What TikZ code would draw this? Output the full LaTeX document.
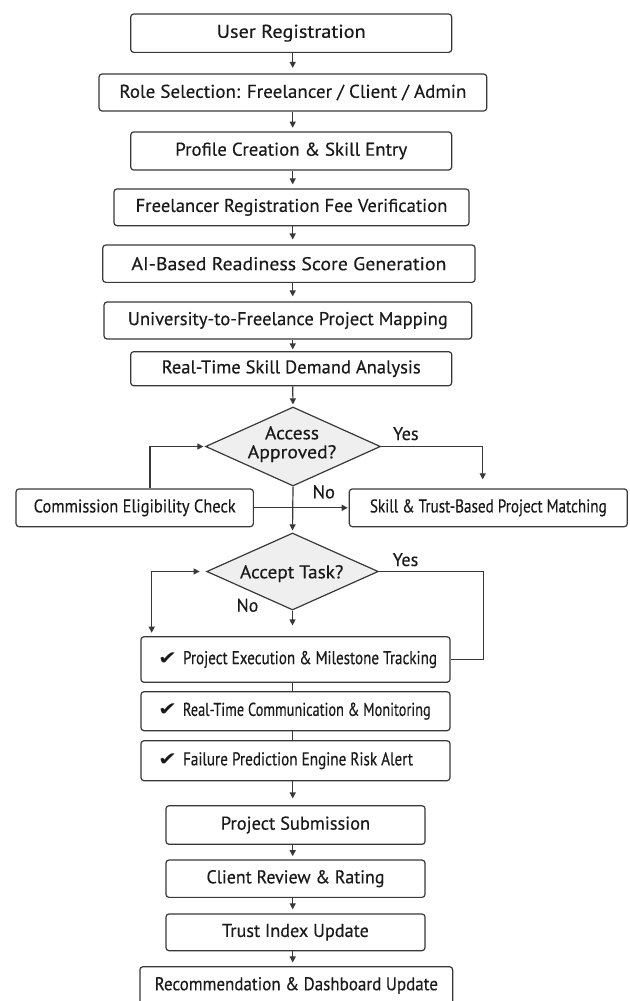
\documentclass[tikz,border=0pt]{standalone}
\usepackage{fontspec}
\setmainfont{PT Sans}[FakeBold=0.35]
\newfontfamily\symfont{DejaVu Sans}
\usetikzlibrary{arrows.meta,shapes.geometric,calc}
\definecolor{linec}{HTML}{383838}
\definecolor{textc}{HTML}{1A1A1A}
\definecolor{diaf}{HTML}{EFEFEF}
\newsavebox\fitbox
\newcommand\fitw[2]{\sbox\fitbox{#2}\pgfmathsetmacro\fitfac{#1/\the\wd\fitbox}\scalebox{\fitfac}[1]{\usebox\fitbox}}
\newcommand\chk[3]{\hbox to #1pt{\hskip17pt\fitw{19}{\symfont ✔}\hskip6pt\fitw{#2}{#3}\hfil}}
\tikzset{
  box/.style={draw=linec, line width=1.2pt, rounded corners=3pt, fill=white, inner sep=0pt,
    text=textc, font=\fontsize{18.5}{19}\selectfont},
  dia/.style={diamond, draw=linec, line width=1.2pt, fill=diaf, inner sep=0pt},
  tip/.tip={Triangle[length=6pt,width=6pt]},
  arr/.style={draw=linec, line width=1.2pt, -tip},
  ln/.style={draw=linec, line width=1.2pt},
  lbl/.style={text=textc, inner sep=0pt, anchor=base, font=\fontsize{18.5}{19}\selectfont}
}
\begin{document}
\begin{tikzpicture}[x=1pt,y=-1pt]
\useasboundingbox (0,0) rectangle (629,1001);
\clip (0,0) rectangle (629,1001);
\fill[white] (0,0) rectangle (629,1001);
\coordinate (ax) at (292.7,0);
\coordinate (cx) at (150,0);
\coordinate (yx) at (482.7,0);
\coordinate (lx) at (151.7,0);
\coordinate (y2) at (483.3,0);
% boxes
\node[box, minimum width=321pt, minimum height=38.3pt] (reg) at (291.2,33.2) {\fitw{149}{User Registration}};
\node[box, minimum width=387.7pt, minimum height=37pt] (role) at (292.9,92.5) {\fitw{347}{Role Selection: Freelancer / Client / Admin}};
\node[box, minimum width=321pt, minimum height=38pt] (prof) at (291.2,151) {\fitw{232}{Profile Creation \& Skill Entry}};
\node[box, minimum width=355pt, minimum height=36.7pt] (fee) at (291.5,207.3) {\fitw{311.7}{Freelancer Registration Fee Verification}};
\node[box, minimum width=372.3pt, minimum height=37.3pt] (ai) at (288.9,263.7) {\fitw{315}{AI-Based Readiness Score Generation}};
\node[box, minimum width=367.7pt, minimum height=37pt] (uni) at (287.9,320.5) {\fitw{320}{University-to-Freelance Project Mapping}};
\node[box, minimum width=321pt, minimum height=34pt] (dem) at (291.2,368.7) {\fitw{259}{Real-Time Skill Demand Analysis}};
\node[dia, minimum width=175pt, minimum height=79pt] (acc) at (293,446.5) {};
\node[box, minimum width=237.3pt, minimum height=37.7pt] (comm) at (134.7,507.8) {\fitw{202}{Commission Eligibility Check}};
\node[box, minimum width=278pt, minimum height=37.7pt] (skill) at (488.3,507.8) {\fitw{236.7}{Skill \& Trust-Based Project Matching}};
\node[dia, minimum width=171.6pt, minimum height=77pt] (acpt) at (292.5,571.5) {};
\node[box, minimum width=309pt, minimum height=45.6pt] (exec) at (295.5,659.5) {\chk{309}{254}{Project Execution \& Milestone Tracking}};
\node[box, minimum width=309pt, minimum height=39pt] (mon) at (295.5,711.2) {\chk{309}{247.7}{Real-Time Communication \& Monitoring}};
\node[box, minimum width=309pt, minimum height=40pt] (fail) at (295.5,760.7) {\chk{309}{230}{Failure Prediction Engine Risk Alert}};
\node[box, minimum width=259pt, minimum height=38.6pt] (sub) at (295.5,825) {\fitw{149.3}{Project Submission}};
\node[box, minimum width=259pt, minimum height=37.3pt] (rev) at (295.5,878.7) {\fitw{178}{Client Review \& Rating}};
\node[box, minimum width=259pt, minimum height=36.7pt] (tru) at (295.5,932.3) {\fitw{146.7}{Trust Index Update}};
\node[box, minimum width=312.7pt, minimum height=37.5pt] (rec) at (296.3,985.5) {\fitw{283.3}{Recommendation \& Dashboard Update}};
% diamond texts
\node[lbl] (acct1) at (292,439.3) {\fitw{54}{Access}};
\node[lbl] (acct2) at (292,458.3) {\fitw{88.6}{Approved?}};
\node[lbl] (acptt) at (291.7,578.3) {\fitw{103.3}{Accept Task?}};
% labels
\node[lbl] (yes1) at (405.8,440) {\fitw{25.6}{Yes}};
\node[lbl] (no1) at (323.8,498.3) {\fitw{22.3}{No}};
\node[lbl] (yes2) at (405.5,566) {\fitw{25.6}{Yes}};
\node[lbl] (no2) at (247.5,611.7) {\fitw{21.7}{No}};
% main arrows
\draw[arr, shorten >=5.5pt] (reg.south -| ax) -- (role.north -| ax);
\draw[arr, shorten >=3.7pt] (role.south -| ax) -- (prof.north -| ax);
\draw[arr, shorten >=4pt] (prof.south -| ax) -- (fee.north -| ax);
\draw[arr, shorten >=5pt] (fee.south -| ax) -- (ai.north -| ax);
\draw[arr, shorten >=5pt] (ai.south -| ax) -- (uni.north -| ax);
\draw[arr, shorten >=1.7pt] (uni.south -| ax) -- (dem.north -| ax);
\draw[arr, shorten >=2pt] (dem.south -| ax) -- (acc.north);
\draw[arr, shorten >=2pt] (acc.south) -- (acpt.north);
\draw[arr, shorten >=9pt] (acc.east) -| (yx |- skill.north);
\draw[arr, shorten >=1.5pt] (comm.north -| cx) |- (acc.west);
\draw[arr, shorten >=1pt] (comm.east) -- (skill.west);
\draw[arr, shorten >=10.7pt] (acpt.south) -- (acpt.south |- exec.north);
\draw[ln, tip-tip, shorten <=3.4pt, shorten >=6.5pt] (lx |- exec.north) |- (acpt.west);
\draw[ln] (acpt.east) -| (y2 |- exec.east) -- (exec.east);
\draw[ln] (exec.south -| ax) -- (mon.north -| ax);
\draw[ln] (mon.south -| ax) -- (fail.north -| ax);
\draw[arr, shorten >=6.7pt] (fail.south -| ax) -- (sub.north -| ax);
\draw[arr, shorten >=3.3pt] (sub.south -| ax) -- (rev.north -| ax);
\draw[arr, shorten >=4pt] (rev.south -| ax) -- (tru.north -| ax);
\draw[arr, shorten >=3.7pt] (tru.south -| ax) -- (rec.north -| ax);
\end{tikzpicture}
\end{document}
